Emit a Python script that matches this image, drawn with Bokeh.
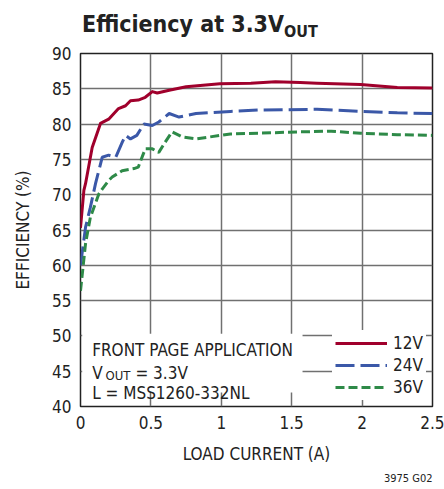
from bokeh.plotting import figure
from bokeh.models import Legend, LegendItem, Label, BoxAnnotation, FixedTicker, Div, Title
from bokeh.layouts import column
from bokeh.embed import file_html
from bokeh.resources import INLINE

# Data
current_12 = [0.0, 0.024, 0.036, 0.083, 0.142, 0.2, 0.27, 0.32, 0.355, 0.41, 0.46, 0.51, 0.545, 0.63, 0.75, 0.99, 1.21, 1.385, 1.56, 1.68, 1.99, 2.25, 2.5]
eff_12 = [65.3, 70.6, 71.6, 76.7, 80.1, 80.7, 82.2, 82.6, 83.3, 83.4, 83.8, 84.6, 84.4, 84.8, 85.3, 85.7, 85.8, 86.0, 85.9, 85.8, 85.6, 85.2, 85.1]

current_24 = [0.0, 0.036, 0.07, 0.107, 0.154, 0.2, 0.25, 0.296, 0.32, 0.355, 0.4, 0.45, 0.51, 0.556, 0.63, 0.7, 0.82, 1.065, 1.28, 1.68, 1.99, 2.25, 2.5]
eff_24 = [60.0, 65.4, 68.2, 71.6, 75.3, 75.6, 75.3, 77.4, 78.4, 77.9, 78.4, 80.0, 79.8, 80.3, 81.5, 81.0, 81.5, 81.8, 82.0, 82.1, 81.8, 81.6, 81.5]

current_36 = [0.0, 0.036, 0.07, 0.13, 0.154, 0.2, 0.225, 0.296, 0.38, 0.41, 0.46, 0.51, 0.556, 0.6, 0.65, 0.72, 0.82, 1.065, 1.56, 1.78, 1.99, 2.25, 2.5]
eff_36 = [56.4, 63.1, 66.8, 70.1, 70.8, 72.0, 72.5, 73.4, 73.7, 73.9, 76.5, 76.5, 76.0, 77.4, 78.9, 78.2, 77.9, 78.6, 78.9, 79.0, 78.7, 78.5, 78.4]

series_labels = ["12V", "24V", "36V"]
x_ticks = [0, 0.5, 1, 1.5, 2, 2.5]
x_tick_labels = ["0", "0.5", "1", "1.5", "2", "2.5"]
y_ticks = [40, 45, 50, 55, 60, 65, 70, 75, 80, 85, 90]
y_tick_labels = ["40", "45", "50", "55", "60", "65", "70", "75", "80", "85", "90"]

FONT = "DejaVu Sans Condensed"
TXT = "#222222"

title = Div(text='<span>Efficiency at 3.3V</span>'
                 '<span style="font-size:16px; vertical-align:-5px">OUT</span>',
            width=444, height=45, margin=0,
            styles={"font-family": FONT, "font-weight": "bold", "font-size": "23px",
                    "line-height": "30px", "padding-top": "9px", "padding-left": "82px",
                    "color": TXT, "box-sizing": "border-box"})

p = figure(width=444, height=444, x_range=(0, 2.5), y_range=(40, 90),
           output_backend="svg", toolbar_location=None, tools="", margin=0)
p.min_border_left = 80
p.min_border_right = 12
p.min_border_top = 8
p.min_border_bottom = 83

p.outline_line_color = "#222222"
p.outline_line_width = 1.5

p.xaxis.ticker = FixedTicker(ticks=x_ticks)
p.yaxis.ticker = FixedTicker(ticks=y_ticks)
p.xaxis.major_label_overrides = dict(zip(x_ticks, x_tick_labels))
p.yaxis.major_label_overrides = dict(zip(y_ticks, y_tick_labels))

for ax in (p.xaxis, p.yaxis):
    ax.axis_line_color = None
    ax.major_tick_line_color = None
    ax.minor_tick_line_color = None
    ax.major_tick_in = 0
    ax.major_tick_out = 0
    ax.major_label_text_font = FONT
    ax.major_label_text_font_size = "17px"
    ax.major_label_text_color = TXT
    ax.axis_label_text_font = FONT
    ax.axis_label_text_font_size = "17px"
    ax.axis_label_text_font_style = "normal"
    ax.axis_label_text_color = TXT

p.xaxis.axis_label = "LOAD CURRENT (A)"
p.yaxis.axis_label = "EFFICIENCY (%)"
p.xaxis.major_label_standoff = 9
p.yaxis.major_label_standoff = 9
p.xaxis.axis_label_standoff = 12
p.yaxis.axis_label_standoff = 16

p.grid.grid_line_color = "#707070"
p.grid.grid_line_width = 1.5

r12 = p.line(current_12, eff_12, line_color="#a0002c", line_width=3, line_join="round")
r24 = p.line(current_24, eff_24, line_color="#3b58a8", line_width=3, line_dash="19 6")
r36 = p.line(current_36, eff_36, line_color="#2e8a48", line_width=3, line_dash="9 4")

# White box behind the annotation text
p.add_layout(BoxAnnotation(left=0.012, right=1.577, bottom=42.0, top=50.3,
                           fill_color="white", fill_alpha=1.0, line_alpha=0))

legend = Legend(items=[LegendItem(label=series_labels[0], renderers=[r12]),
                       LegendItem(label=series_labels[1], renderers=[r24]),
                       LegendItem(label=series_labels[2], renderers=[r36])],
                location=(252, 6), orientation="vertical")
legend.glyph_width = 52
legend.glyph_height = 20
legend.label_height = 20
legend.spacing = 2
legend.padding = 3
legend.margin = 0
legend.label_standoff = 6
legend.label_text_font = FONT
legend.label_text_font_size = "17px"
legend.label_text_color = TXT
legend.background_fill_color = "white"
legend.background_fill_alpha = 1.0
legend.border_line_alpha = 0
p.add_layout(legend)

def txt(x, y, s, size, align="left"):
    p.add_layout(Label(x=x, y=y, text=s, text_font=FONT, text_font_size=size,
                       text_color=TXT, text_align=align, text_baseline="alphabetic"))

# Annotation text
txt(0.083, 48.05, "FRONT PAGE APPLICATION", "17px")
txt(0.083, 44.75, "V", "17px")
txt(0.178, 44.35, "OUT", "13px")
txt(0.39, 44.75, "= 3.3V", "17px")
txt(0.083, 41.9, "L = MSS1260-332NL", "17px")

p.add_layout(Title(text="3975 G02", align="right", text_font=FONT, text_font_size="11px",
                   text_font_style="normal", text_color=TXT, standoff=6), "below")

layout = column(title, p, spacing=0, margin=0)
open("out.html", "w").write(file_html(layout, INLINE))
